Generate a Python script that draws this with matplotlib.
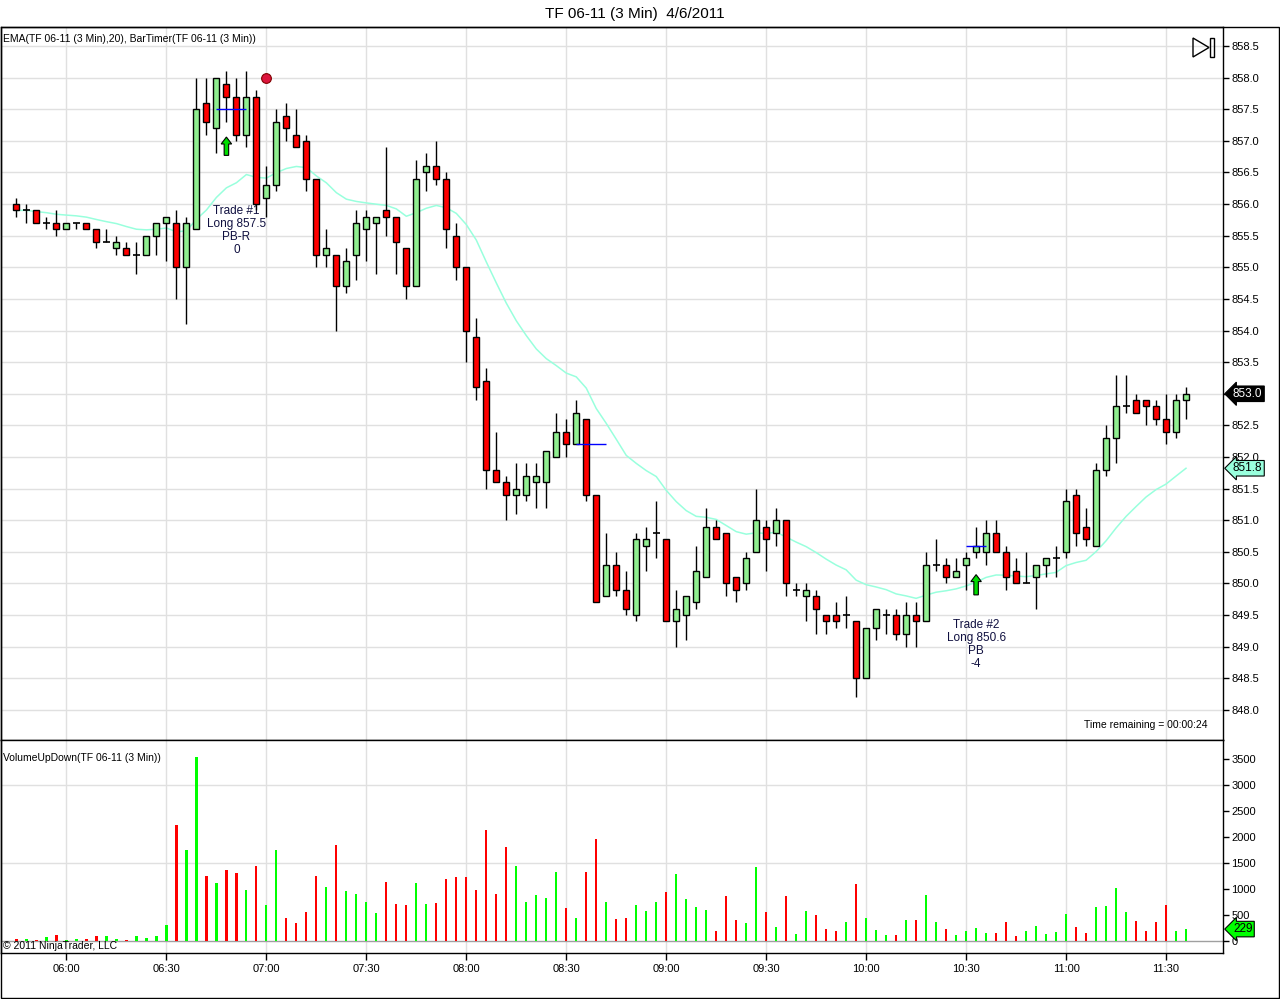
import numpy as np
import pandas as pd
import matplotlib
matplotlib.use('Agg')
import matplotlib.pyplot as plt
from matplotlib.patches import Rectangle, Polygon, FancyArrow
from matplotlib.transforms import blended_transform_factory

plt.rcParams['font.family'] = ['Liberation Sans', 'DejaVu Sans']

# ---------------- data ----------------
times = pd.date_range('2011-04-06 05:45', periods=118, freq='3min')

opens = [856.0, 855.9, 855.9, 855.7, 855.7, 855.6, 855.7, 855.7, 855.6, 855.4,
         855.3, 855.3, 855.2, 855.2, 855.5, 855.7, 855.7, 855.0, 855.6, 857.6,
         857.2, 857.9, 857.7, 857.1, 857.7, 856.1, 856.3, 857.4, 857.1, 857.0,
         856.4, 855.2, 855.2, 854.7, 855.2, 855.6, 855.7, 855.9, 855.8, 855.3,
         854.7, 856.5, 856.6, 856.4, 855.5, 855.0, 853.9, 853.2, 851.8, 851.6,
         851.4, 851.4, 851.6, 851.6, 852.0, 852.4, 852.2, 852.6, 851.4, 849.8,
         850.3, 849.9, 849.5, 850.6, 850.8, 850.7, 849.4, 849.5, 849.7, 850.1,
         850.9, 850.8, 850.1, 850.0, 850.5, 850.9, 850.8, 851.0, 849.9, 849.8,
         849.8, 849.5, 849.5, 849.5, 849.4, 848.5, 849.3, 849.5, 849.5, 849.2,
         849.5, 849.4, 850.3, 850.3, 850.1, 850.3, 850.5, 850.5, 850.8, 850.5,
         850.2, 850.0, 850.1, 850.3, 850.4, 850.5, 851.4, 850.9, 850.6, 851.8,
         852.3, 852.8, 852.9, 852.9, 852.8, 852.6, 852.4, 852.9]
highs = [856.1, 856.0, 855.9, 855.8, 855.9, 855.7, 855.7, 855.7, 855.6, 855.6,
         855.5, 855.4, 855.4, 855.5, 855.7, 855.8, 855.9, 855.8, 858.0, 858.0,
         858.0, 858.1, 858.0, 858.1, 857.8, 856.6, 857.5, 857.6, 857.5, 857.1,
         856.4, 855.6, 855.2, 855.3, 855.9, 855.9, 855.8, 856.9, 855.8, 855.3,
         856.7, 856.8, 857.0, 856.5, 855.7, 855.0, 854.2, 853.4, 852.4, 851.7,
         851.9, 851.9, 851.9, 852.1, 852.7, 852.6, 852.9, 852.6, 851.4, 850.8,
         850.5, 850.2, 850.8, 850.9, 851.3, 850.7, 849.9, 849.8, 850.6, 851.2,
         851.0, 850.8, 850.1, 850.5, 851.5, 851.0, 851.2, 851.0, 850.0, 850.0,
         849.9, 849.5, 849.7, 849.8, 849.4, 849.3, 849.6, 849.6, 849.6, 849.7,
         849.7, 850.5, 850.7, 850.4, 850.4, 850.5, 850.9, 851.0, 851.0, 850.6,
         850.4, 850.5, 850.3, 850.4, 850.6, 851.5, 851.5, 851.2, 851.9, 852.5,
         853.3, 853.3, 853.0, 852.9, 852.9, 853.0, 853.0, 853.1]
lows = [855.8, 855.7, 855.7, 855.6, 855.5, 855.6, 855.6, 855.6, 855.3, 855.4,
        855.2, 855.2, 854.9, 855.2, 855.2, 855.1, 854.5, 854.1, 855.6, 857.1,
        856.8, 857.3, 857.0, 856.9, 855.9, 855.8, 856.2, 857.0, 856.9, 856.2,
        855.0, 855.0, 854.0, 854.6, 854.8, 855.1, 854.9, 855.5, 854.9, 854.5,
        854.7, 856.2, 856.3, 855.3, 854.8, 853.5, 852.9, 851.5, 851.6, 851.0,
        851.1, 851.3, 851.2, 851.2, 852.0, 852.0, 852.2, 851.3, 849.7, 849.8,
        849.8, 849.5, 849.4, 850.2, 850.4, 849.4, 849.0, 849.1, 849.6, 850.1,
        850.7, 849.8, 849.7, 849.9, 850.5, 850.2, 850.6, 849.8, 849.8, 849.4,
        849.2, 849.2, 849.3, 849.3, 848.2, 848.5, 849.1, 849.2, 849.1, 849.0,
        849.0, 849.4, 850.2, 850.0, 850.1, 849.9, 850.4, 850.3, 850.5, 849.9,
        850.0, 850.0, 849.6, 850.1, 850.1, 850.4, 850.6, 850.6, 850.6, 851.7,
        851.9, 852.7, 852.7, 852.5, 852.5, 852.2, 852.3, 852.6]
closes = [855.9, 855.9, 855.7, 855.7, 855.6, 855.7, 855.7, 855.6, 855.4, 855.4,
          855.4, 855.2, 855.2, 855.5, 855.7, 855.8, 855.0, 855.7, 857.5, 857.3,
          858.0, 857.7, 857.1, 857.7, 856.0, 856.3, 857.3, 857.2, 856.9, 856.4,
          855.2, 855.3, 854.7, 855.1, 855.7, 855.8, 855.8, 855.8, 855.4, 854.7,
          856.4, 856.6, 856.4, 855.6, 855.0, 854.0, 853.1, 851.8, 851.6, 851.4,
          851.5, 851.7, 851.7, 852.1, 852.4, 852.2, 852.7, 851.4, 849.7, 850.3,
          849.9, 849.6, 850.7, 850.7, 850.8, 849.4, 849.6, 849.8, 850.2, 850.9,
          850.7, 850.0, 849.9, 850.4, 851.0, 850.7, 851.0, 850.0, 849.9, 849.9,
          849.6, 849.4, 849.4, 849.5, 848.5, 849.3, 849.6, 849.5, 849.2, 849.5,
          849.4, 850.3, 850.3, 850.1, 850.2, 850.4, 850.6, 850.8, 850.5, 850.1,
          850.0, 850.0, 850.3, 850.4, 850.4, 851.3, 850.8, 850.7, 851.8, 852.3,
          852.8, 852.8, 852.7, 852.8, 852.6, 852.4, 852.9, 853.0]
volumes = [40, 40, 20, 75, 115, 20, 40, 40, 95, 95,
           40, 20, 95, 60, 95, 310, 2230, 1750, 3530, 1250,
           1115, 1365, 1310, 980, 1440, 690, 1750, 440, 345, 560,
           1250, 1040, 1845, 960, 905, 750, 540, 1135, 710, 690,
           1115, 710, 730, 1190, 1230, 1230, 980, 2135, 905, 1810,
           1440, 750, 885, 825, 1325, 635, 440, 1325, 1960, 750,
           420, 440, 690, 575, 750, 940, 1290, 810, 655, 595,
           190, 865, 405, 345, 1425, 560, 270, 865, 135, 575,
           500, 230, 190, 365, 1095, 440, 210, 115, 115, 405,
           405, 885, 365, 230, 115, 190, 250, 155, 155, 365,
           95, 190, 290, 135, 175, 520, 270, 155, 655, 675,
           1020, 560, 385, 190, 365, 690, 190, 229]

ema_period = 20
x_tick_labels = ['06:00', '06:30', '07:00', '07:30', '08:00', '08:30', '09:00',
                 '09:30', '10:00', '10:30', '11:00', '11:30']
price_ticks = [848.0, 848.5, 849.0, 849.5, 850.0, 850.5, 851.0, 851.5, 852.0,
               852.5, 853.0, 853.5, 854.0, 854.5, 855.0, 855.5, 856.0, 856.5,
               857.0, 857.5, 858.0, 858.5]
volume_ticks = [0, 500, 1000, 1500, 2000, 2500, 3000, 3500]

# trade markers
trade_arrow_time = ['06:48', '10:33']
trade_arrow_low = [856.77, 849.82]
trade_arrow_high = [857.06, 850.14]
trade_label_time = ['06:51', '10:33']
trade_label_top = [855.99, 849.44]
trade_labels = ['Trade #1\nLong 857.5\nPB-R\n0', 'Trade #2\nLong 850.6\nPB\n-4']
entry_start = ['06:45', '08:33', '10:30']
entry_end = ['06:54', '08:42', '10:36']
entry_price = [857.5, 852.2, 850.6]
exit_dot_time = '07:00'
exit_dot_price = 858.0

# ---------------- derived ----------------
labels_hm = list(times.strftime('%H:%M'))
idx = np.arange(len(times))
o = np.array(opens); h = np.array(highs); l = np.array(lows); c = np.array(closes)
v = np.array(volumes)
up = c >= o
ema = pd.Series(c).ewm(span=ema_period, adjust=False).mean().values
tick_idx = [labels_hm.index(t) for t in x_tick_labels]
pos = lambda t: labels_hm.index(t)

RED = '#ff0000'
GREEN_BODY = '#90ee90'
VOL_GREEN = '#00ff00'
GRID = '#e0e0e0'

W, H = 1280, 999
fig = plt.figure(figsize=(W / 100, H / 100), dpi=100)
fx = lambda px: px / W
fy = lambda py: 1 - py / H

ax = fig.add_axes([fx(0.5), fy(740), fx(1223) - fx(0.5), fy(27) - fy(740)])
axv = fig.add_axes([fx(0.5), fy(953), fx(1223) - fx(0.5), fy(740) - fy(953)], sharex=ax)

# ---------------- price panel ----------------
ax.set_xlim(-1.6, 120.7)
ax.set_ylim(847.525, 858.80)
ax.set_xticks(tick_idx)
ax.set_yticks(price_ticks)
# the last-price tag covers the tick label at that level
ax.set_yticklabels(['' if abs(p - c[-1]) < 1e-6 else f'{p:.1f}' for p in price_ticks])
ax.yaxis.tick_right()
ax.tick_params(axis='y', direction='out', length=4, width=1, pad=2, labelsize=8)
ax.tick_params(axis='x', length=0, labelbottom=False)
ax.grid(True, color=GRID, lw=1)
ax.set_axisbelow(True)
for s in ax.spines.values():
    s.set_color('black'); s.set_linewidth(1)

# trade text (behind candles)
for t, top, txt in zip(trade_label_time, trade_label_top, trade_labels):
    ax.text(pos(t), top, txt, ha='center', va='top',
            fontsize=8.5, color='#101040', linespacing=1.12, zorder=1.5)

ax.plot(idx, ema, color='#99ffdd', lw=1.1, zorder=2)
ax.vlines(idx, l, h, color='black', lw=1, zorder=3)
body_bottom = np.minimum(o, c)
body_h = np.abs(c - o)
nz = body_h > 1e-9
ax.bar(idx[nz], body_h[nz], bottom=body_bottom[nz], width=0.6,
       color=np.where(up[nz], GREEN_BODY, RED), edgecolor='black', linewidth=1, zorder=4)
ax.hlines(o[~nz], idx[~nz] - 0.35, idx[~nz] + 0.35, color='black', lw=1.2, zorder=4)

# entry lines
for a, b, p in zip(entry_start, entry_end, entry_price):
    ax.hlines(p, pos(a), pos(b), color='#0000ff', lw=1, zorder=5)
# arrows
for t, lo, hi in zip(trade_arrow_time, trade_arrow_low, trade_arrow_high):
    ax.add_patch(FancyArrow(pos(t), lo, 0, hi - lo, width=0.45, head_width=1.05,
                            head_length=0.11, length_includes_head=True,
                            fc='#00dd00', ec='black', lw=0.8, zorder=6))
ax.plot([pos(exit_dot_time)], [exit_dot_price], 'o', ms=7, mfc='#dc143c',
        mec='#800000', mew=0.8, zorder=6)

ax.text(3 / 1223, 1 - 12 / 713, 'EMA(TF 06-11 (3 Min),20), BarTimer(TF 06-11 (3 Min))',
        transform=ax.transAxes, fontsize=7.5, va='center', ha='left')
ax.text(1207 / 1223, 15 / 713, 'Time remaining = 00:00:24', transform=ax.transAxes,
        fontsize=7.5, va='center', ha='right')

bt = blended_transform_factory(ax.transAxes, ax.transData)
ax.text(1.0 + 10 / 1223, c[-1], f'{c[-1]:.1f}', transform=bt, fontsize=8.5, color='white',
        va='center', ha='left', clip_on=False, zorder=10,
        bbox=dict(boxstyle='larrow,pad=0.15', fc='black', ec='black', lw=0.8))
ax.text(1.0 + 10 / 1223, ema[-1], f'{ema[-1]:.1f}', transform=bt, fontsize=8.5,
        color='black', va='center', ha='left', clip_on=False, zorder=10,
        bbox=dict(boxstyle='larrow,pad=0.15', fc='#99ffdd', ec='black', lw=0.8))

# ---------------- volume panel ----------------
axv.set_ylim(-231, 3865)
axv.set_yticks(volume_ticks)
axv.yaxis.tick_right()
axv.tick_params(axis='y', direction='out', length=4, width=1, pad=2, labelsize=8)
axv.set_xticks(tick_idx)
axv.set_xticklabels(x_tick_labels)
axv.tick_params(axis='x', direction='out', length=5, width=1, pad=3, labelsize=8)
axv.grid(True, axis='x', color=GRID, lw=1)
for yv in (1500, 3000):
    axv.axhline(yv, color=GRID, lw=1, zorder=0.5)
axv.axhline(0, color='#a0a0a0', lw=1, zorder=1)
axv.set_axisbelow(True)
for s in axv.spines.values():
    s.set_color('black'); s.set_linewidth(1)
axv.bar(idx, v, width=0.22, color=np.where(up, VOL_GREEN, RED), zorder=3)
axv.text(3 / 1223, 1 - 18 / 213, 'VolumeUpDown(TF 06-11 (3 Min))', transform=axv.transAxes,
         fontsize=7.5, va='center', ha='left')
axv.text(3 / 1223, 7 / 213, '\u00a9 2011 NinjaTrader, LLC', transform=axv.transAxes,
         fontsize=7.5, va='center', ha='left')
btv = blended_transform_factory(axv.transAxes, axv.transData)
axv.text(1.0 + 10 / 1223, v[-1], f'{v[-1]}', transform=btv, fontsize=8.5,
         color='black', va='center', ha='left', clip_on=False, zorder=10,
         bbox=dict(boxstyle='larrow,pad=0.15', fc=VOL_GREEN, ec='black', lw=0.8))

# ---------------- figure decorations ----------------
fig.text(fx(635), fy(14), 'TF 06-11 (3 Min)  4/6/2011', ha='center', va='center', fontsize=11)
fig.add_artist(Rectangle((fx(0.5), fy(998)), fx(1279) - fx(0.5), fy(27) - fy(998),
                         transform=fig.transFigure, fill=False, ec='black', lw=1))
fig.add_artist(Polygon([(fx(1193), fy(38)), (fx(1209), fy(47.5)), (fx(1193), fy(57))],
                       closed=True, transform=fig.transFigure, fill=False, ec='black', lw=1))
fig.add_artist(Rectangle((fx(1210), fy(57)), fx(1214) - fx(1210), fy(38) - fy(57),
                         transform=fig.transFigure, fill=False, ec='black', lw=1))

fig.savefig('out.png', dpi=100)
